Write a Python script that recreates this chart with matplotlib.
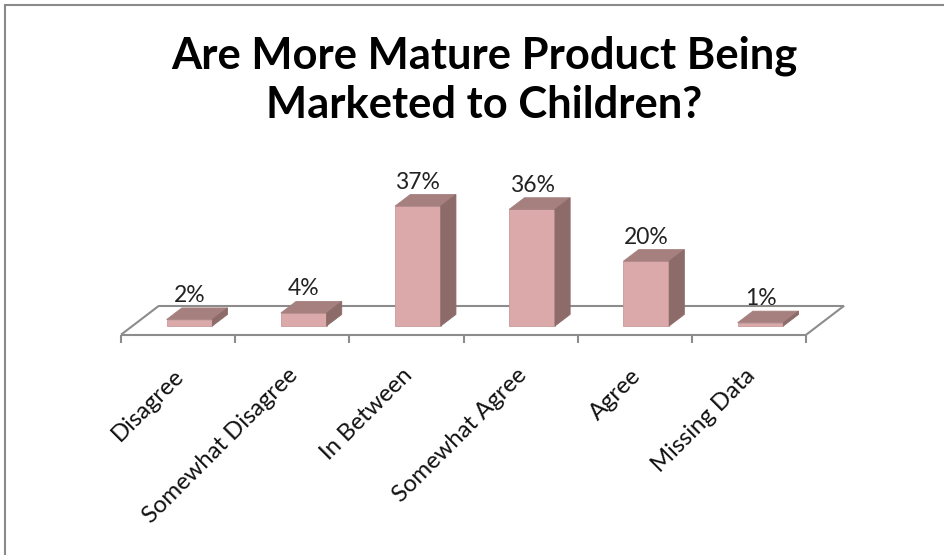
import matplotlib
matplotlib.use("Agg")
import matplotlib.pyplot as plt
from matplotlib.patches import Polygon, Rectangle

categories = ["Disagree", "Somewhat Disagree", "In Between", "Somewhat Agree", "Agree", "Missing Data"]
values = [2, 4, 37, 36, 20, 1]
value_labels = ["2%", "4%", "37%", "36%", "20%", "1%"]
title = "Are More Mature Product Being\nMarketed to Children?"

FONT = "Lato"
front_c = "#DBA9A9"
top_c = "#A6807E"
side_c = "#8C6B69"
edge_c = "#C99A9A"
grid_c = "#8C8C8C"

W, H = 944, 555
fig = plt.figure(figsize=(W / 100, H / 100), dpi=100)
ax = fig.add_axes([0, 0, 1, 1])
ax.axis("off")

# pixel scale
x0_px, cat_px = 121.0, 114.2
y0_px, pct_px = 326.0, 3.24
ax.set_xlim(-x0_px / cat_px, (W - x0_px) / cat_px)
ax.set_ylim((y0_px - H) / pct_px, y0_px / pct_px)

# depth vector (data units)
ddx, ddy = 38 / cat_px, 29 / pct_px
d0, d1 = 0.3, 0.7
yf = -d0 * ddy
n = len(categories)
bw = 0.4

# floor outline
fl = dict(color=grid_c, lw=1.5, zorder=1, solid_capstyle="butt")
ax.plot([0, n], [yf, yf], **fl)
ax.plot([0, ddx], [yf, yf + ddy], **fl)
ax.plot([ddx, n + ddx], [yf + ddy, yf + ddy], **fl)
ax.plot([n, n + ddx], [yf, yf + ddy], **fl)
for i in range(n + 1):
    ax.plot([i, i], [yf, yf - 2.6], **fl)

# bars
for i, v in enumerate(values):
    c = i + 0.5 + d0 * ddx
    xl, xr = c - bw / 2, c + bw / 2
    ox, oy = (d1 - d0) * ddx, (d1 - d0) * ddy
    ax.add_patch(Polygon([(xl, 0), (xr, 0), (xr, v), (xl, v)], closed=True,
                         facecolor=front_c, edgecolor=edge_c, lw=0.6, zorder=3))
    ax.add_patch(Polygon([(xl, v), (xr, v), (xr + ox, v + oy), (xl + ox, v + oy)], closed=True,
                         facecolor=top_c, edgecolor=top_c, lw=0.6, zorder=3))
    ax.add_patch(Polygon([(xr, 0), (xr + ox, oy), (xr + ox, v + oy), (xr, v)], closed=True,
                         facecolor=side_c, edgecolor=side_c, lw=0.6, zorder=3))
    ax.annotate(value_labels[i], (c, v + oy), xytext=(0, 6), textcoords="offset pixels",
                ha="center", va="baseline", fontsize=16.5, family=FONT, color="#222222", zorder=4)

# category labels
for i, lab in enumerate(categories):
    ax.text(i + 0.5 + 7 / cat_px, yf - 13.0, lab, rotation=45,
            rotation_mode="anchor", ha="right", va="baseline", fontsize=17.2,
            family=FONT, color="#111111")

fig.text(484 / W, 1 - 36 / H, title, ha="center", va="top", fontsize=31.3,
         fontweight="bold", family=FONT, color="black", linespacing=1.25)

# outer border (right edge outside the image)
fig.add_artist(Rectangle((5 / W, -0.01), 1.0, 1 - 5 / H + 0.01, transform=fig.transFigure,
                         fill=False, edgecolor="#8A8A8A", lw=1.5))

fig.savefig("out.png", dpi=100)
